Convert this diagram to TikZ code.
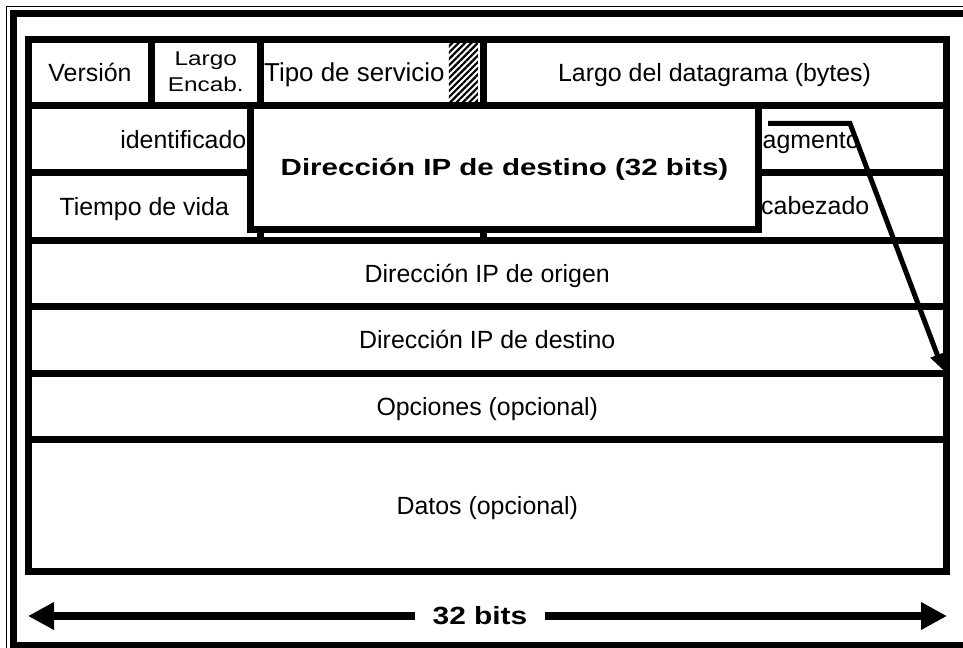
\documentclass[tikz,border=0pt]{standalone}
\usepackage{fontspec}
\setmainfont{Liberation Sans}
\usepackage{graphicx}
\usetikzlibrary{arrows.meta,positioning,patterns.meta}
\newcommand\cellfont{\fontsize{25}{30}\selectfont}
\newcommand\smallcell{\fontsize{20}{26}\selectfont}
\tikzset{
  cell/.style={draw,line width=7bp,inner sep=0pt,outer sep=0pt,minimum height=66bp,font=\cellfont,text height=18bp,text depth=0bp},
  lbl/.style={inner sep=0pt,font=\cellfont},
}
\begin{document}
\begin{tikzpicture}[x=1bp,y=-1bp]
\useasboundingbox (0,0) rectangle (963,648);
% marco doble
\draw[line width=1.5bp] (6.5,648) -- (6.5,6.5) -- (963,6.5);
\draw[line width=7bp] (963,645.5) -- (13.5,645.5) -- (13.5,13.5) -- (963,13.5);
% fila 1
\node[cell,minimum width=123bp] (ver) at (90,73) {Versión};
\node[cell,minimum width=108.5bp,right=0pt of ver] (ihl) {};
\node[lbl] (ihll) at (ihl) {\scalebox{1.22}[1]{\smallcell\begin{tabular}{@{}c@{}}Largo\\Encab.\end{tabular}}};
\node[cell,minimum width=223bp,right=0pt of ihl] (tos) {};
\node[cell,minimum width=463bp,right=0pt of tos] (len) {Largo del datagrama (bytes)};
\node[lbl,font=\fontsize{26}{30}\selectfont,anchor=base west] (tosl) at ([xshift=4bp,yshift=-9bp]tos.west) {Tipo de servicio};
\node[pattern={Lines[angle=45,distance=4.5bp,line width=2.2bp]},minimum width=29bp,minimum height=59bp,inner sep=0pt,left=4bp of len.west] (tsh) {};
% filas 2 y 3
\node[cell,minimum width=917.5bp,minimum height=66.5bp,anchor=north west] (idr) at (ver.south west) {};
\node[cell,minimum width=231.5bp,minimum height=67.5bp,anchor=north west] (ttl) at (idr.south west) {Tiempo de vida};
\node[cell,minimum width=223bp,minimum height=67.5bp,right=0pt of ttl] (pro) {};
\node[cell,minimum width=463bp,minimum height=67.5bp,right=0pt of pro] (chk) {};
% filas completas
\node[cell,minimum width=917.5bp,minimum height=66.5bp,anchor=north west] (org) at (ttl.south west) {Dirección IP de origen};
\node[cell,minimum width=917.5bp,minimum height=66.5bp,below=0pt of org] (dst) {Dirección IP de destino};
\node[cell,minimum width=917.5bp,minimum height=66.5bp,below=0pt of dst] (opt) {Opciones (opcional)};
\node[cell,minimum width=917.5bp,minimum height=132bp,below=0pt of opt] (dat) {Datos (opcional)};
% recuadro superpuesto
\node[cell,fill=white,minimum width=508bp,minimum height=123bp,text height=17bp] (ipd) at (504.5,167.5) {\scalebox{1.26}[1]{\fontsize{23.5}{28}\selectfont\bfseries Dirección IP de destino (32 bits)}};
\node[lbl,anchor=base east] (idl) at ([xshift=-4bp,yshift=-9bp]ipd.west |- idr) {identificado};
\node[lbl,anchor=base west] (frl) at ([xshift=4bp,yshift=-9bp]ipd.east |- idr) {agmento};
\node[lbl,anchor=base west] (ckl) at ([xshift=2.5bp,yshift=-8bp]ipd.east |- chk) {cabezado};
% flecha al destino
\coordinate (ps) at (768,123.5);
\coordinate (tip) at (943,370);
\draw[line width=5bp,line join=miter,-{Triangle[length=16bp,width=14bp]}] (ps) -- ++(82,0) -- (tip);
% 32 bits
\node[inner xsep=17bp,font=\fontsize{25}{30}\selectfont\bfseries] (bits) at (480,616) {\scalebox{1.2}[1]{32 bits}};
\coordinate (bl) at (28,616);
\coordinate (br) at (947,616);
\draw[line width=8bp,-{Triangle[length=26bp,width=26bp]}] (bits) -- (bl);
\draw[line width=8bp,-{Triangle[length=26bp,width=26bp]}] (bits) -- (br);
\end{tikzpicture}
\end{document}
